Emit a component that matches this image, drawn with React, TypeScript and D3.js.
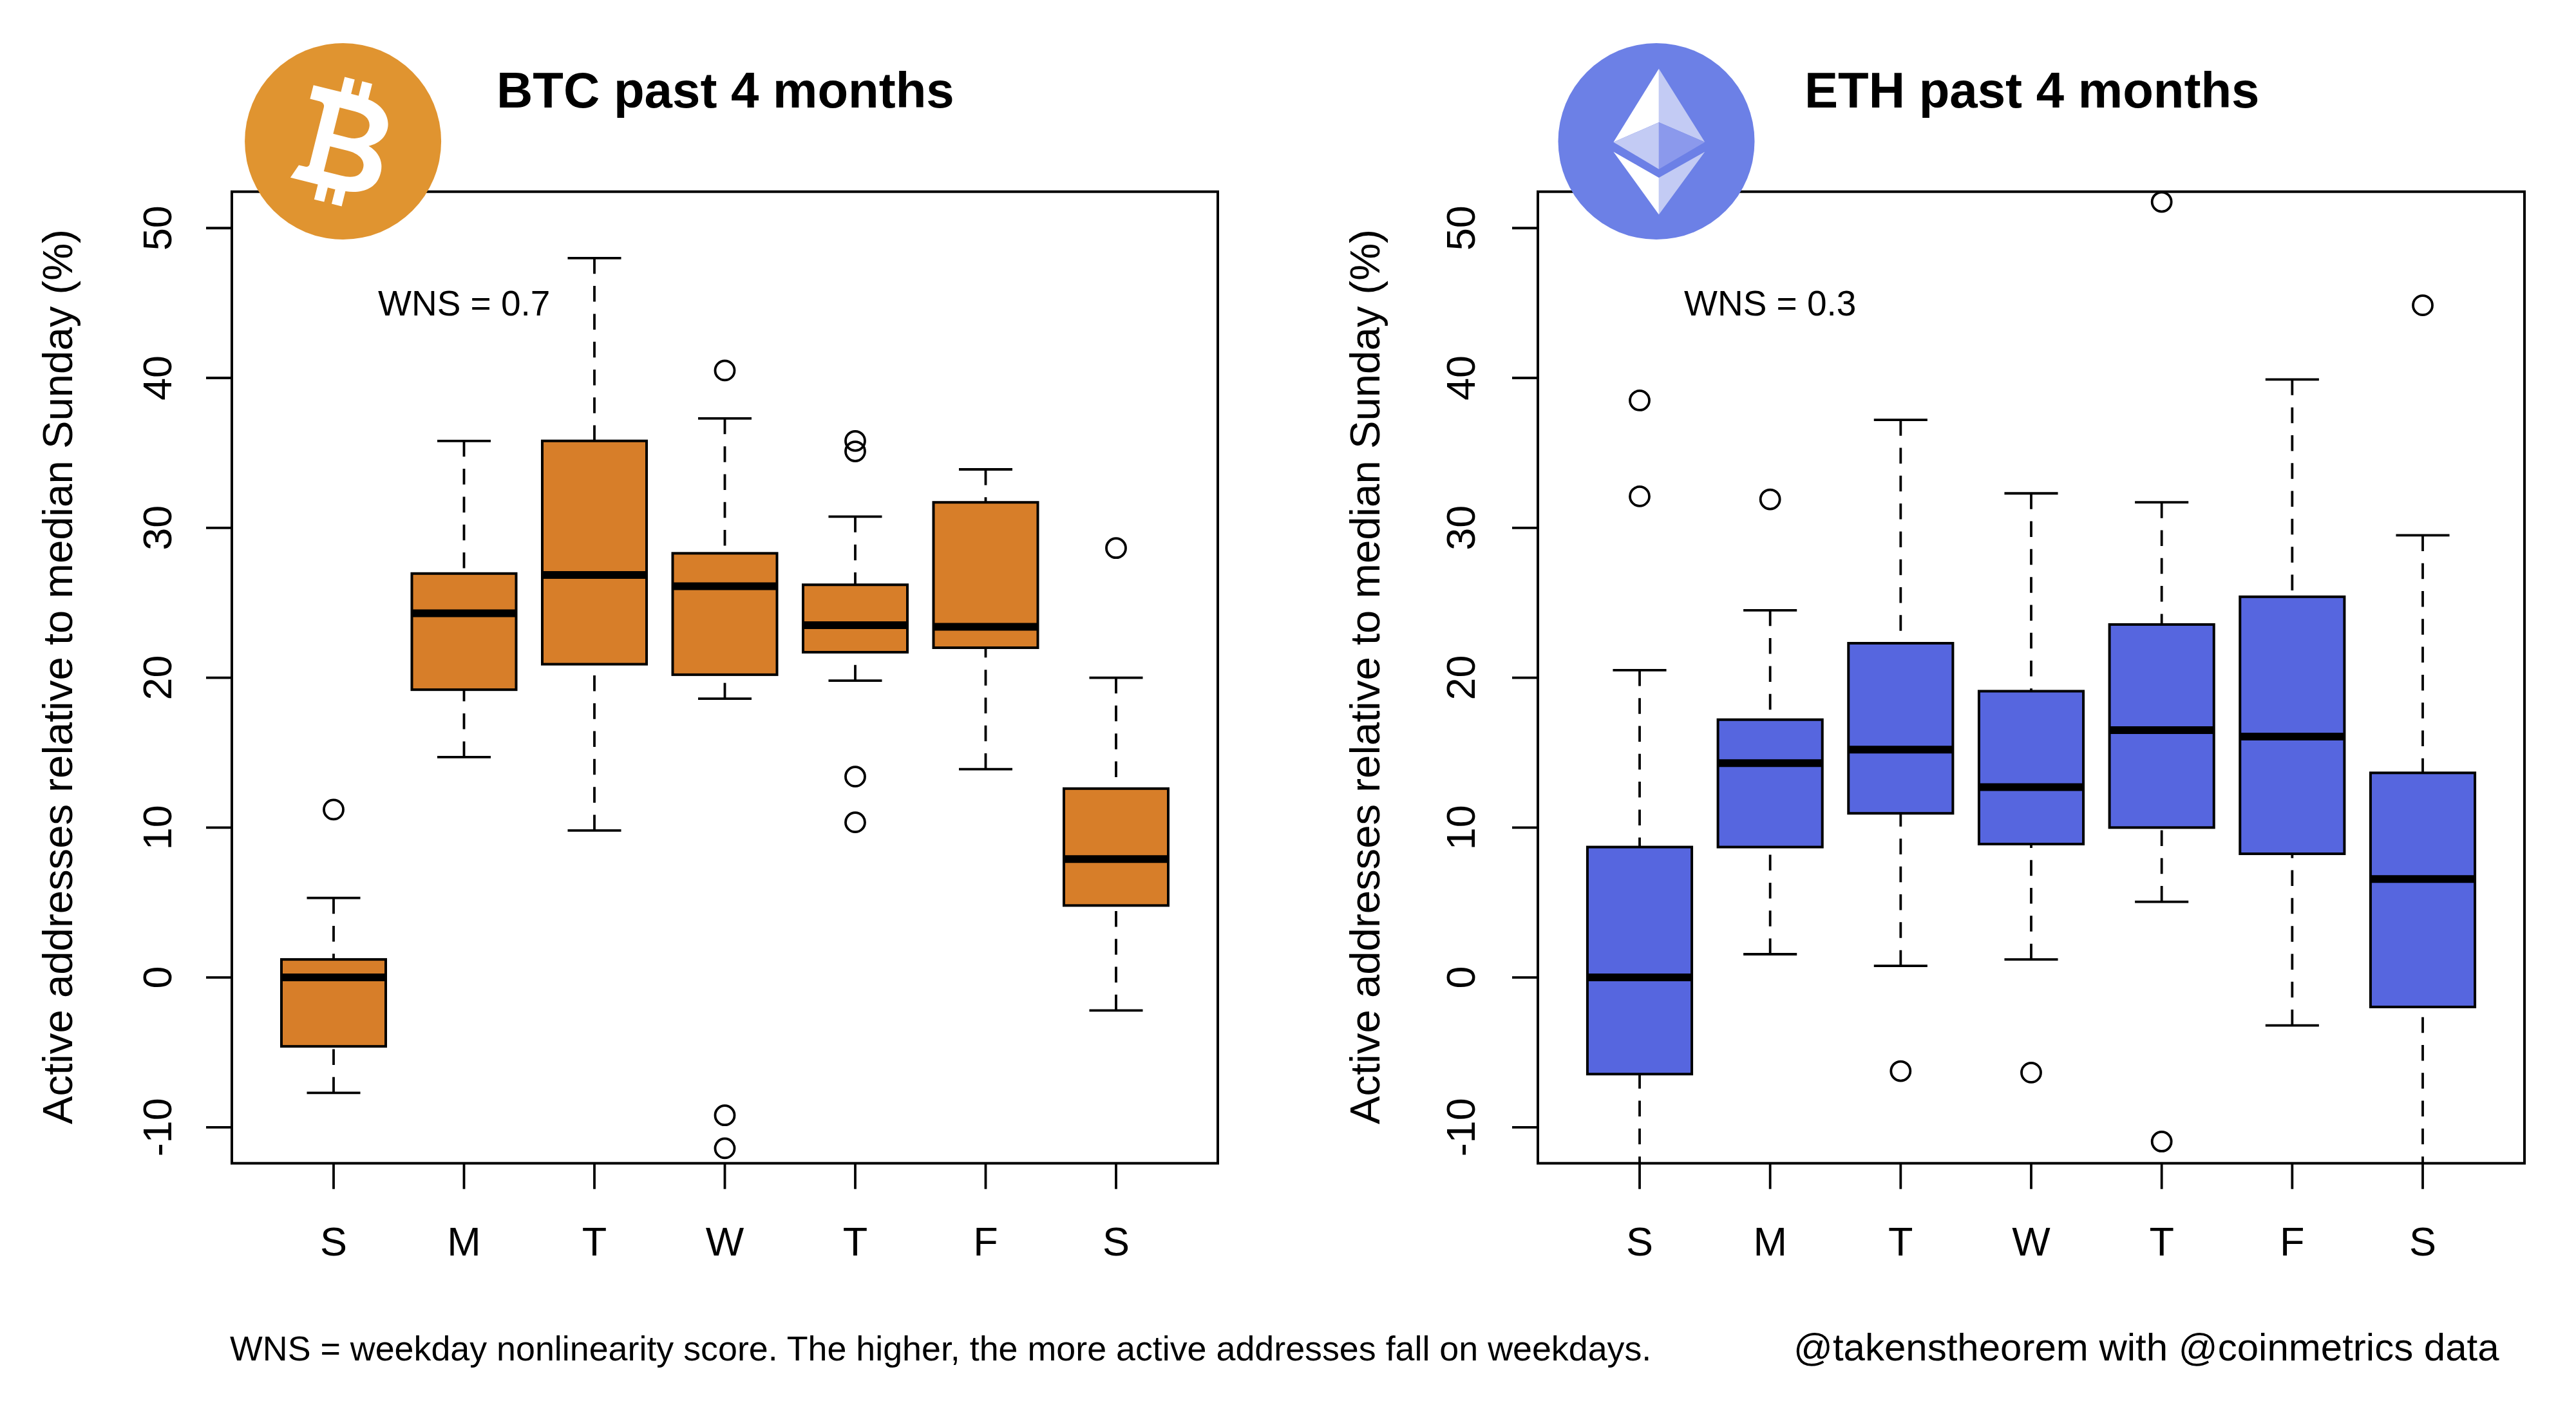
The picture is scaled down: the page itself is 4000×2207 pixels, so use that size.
import React from 'react';
import * as d3 from 'd3';

const days = ['S', 'M', 'T', 'W', 'T', 'F', 'S'];
const yTicks = [-10, 0, 10, 20, 30, 40, 50];

const btcWhiskerLow = [-7.7, 14.7, 9.8, 18.6, 19.8, 13.9, -2.2];
const btcQ1 = [-4.6, 19.2, 20.9, 20.2, 21.7, 22.0, 4.8];
const btcMedian = [0, 24.3, 26.85, 26.1, 23.5, 23.4, 7.9];
const btcQ3 = [1.2, 26.95, 35.8, 28.3, 26.2, 31.7, 12.6];
const btcWhiskerHigh = [5.3, 35.8, 48.0, 37.3, 30.75, 33.9, 20.0];
const btcOutliers = [[11.2], [], [], [40.5, -9.2, -11.4], [35.8, 35.1, 13.4, 10.35], [], [28.65]];

const ethWhiskerLow = [-13, 1.55, 0.77, 1.2, 5.05, -3.2, -13];
const ethQ1 = [-6.45, 8.7, 10.95, 8.9, 10.0, 8.25, -1.97];
const ethMedian = [0, 14.3, 15.2, 12.7, 16.5, 16.07, 6.57];
const ethQ3 = [8.7, 17.2, 22.3, 19.1, 23.55, 25.4, 13.65];
const ethWhiskerHigh = [20.5, 24.5, 37.2, 32.3, 31.7, 39.9, 29.5];
const ethOutliers = [[38.5, 32.1], [31.9], [-6.25], [-6.35], [51.75, -10.95], [], [44.85]];

const FONT = '"Liberation Sans", Arial, Helvetica, sans-serif';
const TOP = 297.7;
const BOTTOM = 1806.7;
const y = d3.scaleLinear().domain([-12.4, 52.43]).range([BOTTOM, TOP]);
const ylabel = 'Active addresses relative to median Sunday (%)';

const BITCOIN_B =
  'M-62,-74 H-18 V-98 H-2 V-75 H10 V-98 H26 V-73 C52,-70 66,-52 66,-36 C66,-18 54,-8 44,-3 C64,3 74,18 72,38 C70,60 50,72 26,74 V98 H10 V75 H-2 V98 H-18 V74 H-62 L-54,52 H-46 C-40,52 -38,50 -38,46 V-44 C-38,-50 -42,-52 -48,-52 H-62 Z ' +
  'M-14,-50 V-8 H10 C26,-8 38,-16 38,-30 C38,-44 26,-50 10,-50 Z ' +
  'M-14,12 V52 H14 C32,52 44,46 44,32 C44,18 30,12 14,12 Z';

function Panel(p: {
  id: string; left: number; right: number; x1: number; x7: number; fill: string;
  low: number[]; q1: number[]; med: number[]; q3: number[]; high: number[]; out: number[][];
  wns: string; wnsX: number; labelX: number; titleX: number;
}) {
  const x = d3.scaleLinear().domain([1, 7]).range([p.x1, p.x7]);
  const step = x(2) - x(1);
  const boxHalf = step * 0.4;
  const capHalf = step * 0.205;
  return (
    <g>
      <defs>
        <clipPath id={p.id}>
          <rect x={p.left} y={TOP} width={p.right - p.left} height={BOTTOM - TOP} />
        </clipPath>
      </defs>
      <g clipPath={`url(#${p.id})`}>
        {days.map((_, i) => {
          const cx = x(i + 1);
          return (
            <g key={i}>
              <line x1={cx} x2={cx} y1={y(p.high[i])} y2={y(p.q3[i])} stroke="#000" strokeWidth={3.8} strokeDasharray="24.5 18.8" />
              <line x1={cx} x2={cx} y1={y(p.low[i])} y2={y(p.q1[i])} stroke="#000" strokeWidth={3.8} strokeDasharray="24.5 18.8" />
              <line x1={cx - capHalf} x2={cx + capHalf} y1={y(p.high[i])} y2={y(p.high[i])} stroke="#000" strokeWidth={3.8} />
              <line x1={cx - capHalf} x2={cx + capHalf} y1={y(p.low[i])} y2={y(p.low[i])} stroke="#000" strokeWidth={3.8} />
              <rect x={cx - boxHalf} y={y(p.q3[i])} width={boxHalf * 2} height={y(p.q1[i]) - y(p.q3[i])} fill={p.fill} stroke="#000" strokeWidth={4} />
              <line x1={cx - boxHalf} x2={cx + boxHalf} y1={y(p.med[i])} y2={y(p.med[i])} stroke="#000" strokeWidth={12} />
              {p.out[i].map((v, j) => (
                <circle key={j} cx={cx} cy={y(v)} r={15} fill="none" stroke="#000" strokeWidth={3.8} />
              ))}
            </g>
          );
        })}
      </g>
      <rect x={p.left} y={TOP} width={p.right - p.left} height={BOTTOM - TOP} fill="none" stroke="#000" strokeWidth={4} />
      {yTicks.map(t => (
        <g key={t}>
          <line x1={p.left - 40} x2={p.left} y1={y(t)} y2={y(t)} stroke="#000" strokeWidth={3.8} />
          <text transform={`translate(${p.labelX},${y(t)}) rotate(-90)`} textAnchor="middle" fontFamily={FONT} fontSize={63} fill="#000">{t}</text>
        </g>
      ))}
      {days.map((d, i) => (
        <g key={i}>
          <line x1={x(i + 1)} x2={x(i + 1)} y1={BOTTOM} y2={BOTTOM + 40} stroke="#000" strokeWidth={3.8} />
          <text x={x(i + 1)} y={1950} textAnchor="middle" fontFamily={FONT} fontSize={63} fill="#000">{d}</text>
        </g>
      ))}
      <text transform={`translate(${p.titleX},${(357 + 1745) / 2}) rotate(-90)`} textAnchor="middle" fontFamily={FONT} fontSize={65.3} fill="#000">{ylabel}</text>
      <text x={p.wnsX} y={490} fontFamily={FONT} fontSize={55} fill="#000">{p.wns}</text>
    </g>
  );
}

export default function App() {
  const cxE = 2572, cyE = 219.5;
  const ex = 2575.9;
  return (
    <svg width={4000} height={2207} viewBox="0 0 4000 2207" style={{ position: 'absolute', left: 0, top: 0, background: '#fff' }}>
      <rect width={4000} height={2207} fill="#fff" />
      <Panel id="btc" left={360} right={1891} x1={518} x7={1733} fill="#D77E29"
        low={btcWhiskerLow} q1={btcQ1} med={btcMedian} q3={btcQ3} high={btcWhiskerHigh} out={btcOutliers}
        wns="WNS = 0.7" wnsX={587} labelX={266} titleX={112} />
      <Panel id="eth" left={2388} right={3920} x1={2546} x7={3762} fill="#5666DF"
        low={ethWhiskerLow} q1={ethQ1} med={ethMedian} q3={ethQ3} high={ethWhiskerHigh} out={ethOutliers}
        wns="WNS = 0.3" wnsX={2615} labelX={2290} titleX={2142} />

      <circle cx={532.6} cy={219.5} r={152.5} fill="#E09430" />
      <g transform="translate(529,219) rotate(14)">
        <path d={BITCOIN_B} fill="#fff" fillRule="evenodd" />
      </g>

      <circle cx={cxE} cy={cyE} r={152.5} fill="#6C80E6" />
      <polygon points={`${ex},106.7 ${ex},190 2505.4,220.7`} fill="#fff" />
      <polygon points={`${ex},106.7 ${ex},190 2647.3,220.7`} fill="#C3CBF4" />
      <polygon points={`${ex},190 ${ex},262.7 2505.4,220.7`} fill="#C3CBF4" />
      <polygon points={`${ex},190 ${ex},262.7 2647.3,220.7`} fill="#8B99EC" />
      <polygon points={`${ex},276 ${ex},333.3 2505.4,235.7`} fill="#fff" />
      <polygon points={`${ex},276 ${ex},333.3 2647.3,235.7`} fill="#C3CBF4" />

      <text x={771} y={167} fontFamily={FONT} fontWeight={700} fontSize={78} fill="#000">BTC past 4 months</text>
      <text x={2802} y={167} fontFamily={FONT} fontWeight={700} fontSize={78} fill="#000">ETH past 4 months</text>
      <text x={357} y={2113} fontFamily={FONT} fontSize={53.8} fill="#000">WNS = weekday nonlinearity score. The higher, the more active addresses fall on weekdays.</text>
      <text x={2785} y={2113} fontFamily={FONT} fontSize={60} fill="#000">@takenstheorem with @coinmetrics data</text>
    </svg>
  );
}
